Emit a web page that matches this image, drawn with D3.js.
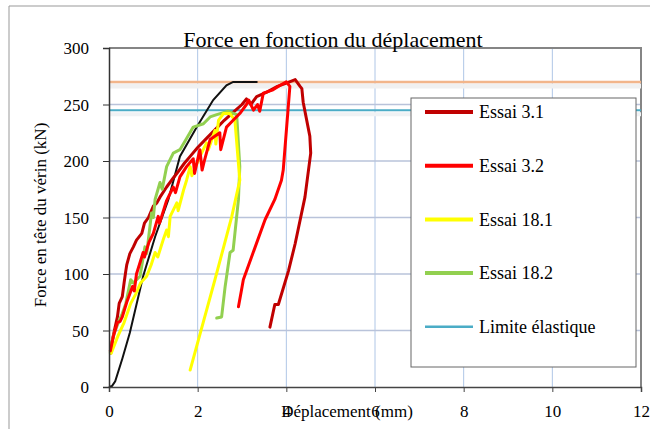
<!DOCTYPE html>
<html><head><meta charset="utf-8">
<script src="https://cdn.jsdelivr.net/npm/d3@7/dist/d3.min.js"></script>
<style>
body{margin:0;background:#fff;}
text{font-family:"Liberation Serif","DejaVu Serif",serif;fill:#000;}
</style></head>
<body><svg id="c" width="650" height="429"></svg>
<script>
// ---- data ----
const title = "Force en fonction du déplacement";
const xLabel = "Déplacement (mm)";
const yLabel = "Force en tête du vérin (kN)";
const xTicks = [0, 2, 4, 6, 8, 10, 12];
const yTicks = [0, 50, 100, 150, 200, 250, 300];
const seriesNames = ["Essai 3.1", "Essai 3.2", "Essai 18.1", "Essai 18.2", "Limite élastique"];
const seriesColors = ["#C00000", "#FF0000", "#FFFF00", "#92D050", "#4BACC6"];
const limiteElastique = 245;
const limiteMax = 270;

const courbeNoire = [[0,0],[0.07,1],[0.14,5],[0.3,25],[0.47,48],[0.77,98],[1.04,133],[1.34,166],[1.6,204],[1.98,230],[2.35,254],[2.65,267],[2.8,270],[3.35,270]];

const essai31 = [[0.04,30],[0.06,38],[0.11,48],[0.19,62],[0.23,74],[0.3,80],[0.34,92],[0.38,103],[0.4,108],[0.47,118],[0.55,124],[0.62,130],[0.74,136],[0.8,145],[0.89,150],[1.0,160],[1.08,163],[1.15,168],[1.3,177],[1.45,185],[1.55,190],[1.7,198],[1.85,205],[2.0,212],[2.2,220],[2.4,228],[2.6,236],[2.8,243],[3.0,250],[3.1,255],[3.2,250],[3.33,257],[3.56,261],[3.8,266],[4.0,269],[4.2,272],[4.31,266],[4.35,264],[4.38,252],[4.53,222],[4.55,207],[4.42,168],[4.2,127],[4.05,103],[3.82,73],[3.74,73],[3.63,53]];

const essai32 = [[0.03,32],[0.1,45],[0.19,57],[0.25,58],[0.3,62],[0.4,75],[0.53,89],[0.57,85],[0.62,100],[0.77,119],[0.8,115],[0.9,128],[1.0,136],[1.11,151],[1.14,145],[1.3,165],[1.45,177],[1.5,172],[1.6,186],[1.75,195],[1.9,202],[1.93,189],[2.05,210],[2.1,192],[2.15,200],[2.28,219],[2.5,225],[2.52,210],[2.65,230],[2.8,236],[2.95,242],[3.1,250],[3.15,254],[3.26,245],[3.35,250],[3.4,244],[3.48,260],[3.7,263],[3.86,267],[4.0,270],[4.08,266],[3.93,192],[3.89,183],[3.74,166],[3.52,148],[3.03,95],[2.99,86],[2.92,71]];

const essai181 = [[0.05,30],[0.08,33],[0.2,45],[0.34,57],[0.49,74],[0.6,82],[0.71,92],[0.85,98],[0.95,108],[1.04,119],[1.1,115],[1.22,130],[1.3,139],[1.34,133],[1.38,151],[1.53,163],[1.56,156],[1.68,174],[1.75,183],[1.83,195],[1.87,187],[2.05,204],[2.2,216],[2.24,210],[2.39,227],[2.41,215],[2.47,236],[2.58,242],[2.73,242],[2.84,236],[2.95,183],[2.77,151],[2.39,95],[1.83,15]];

const essai182 = [[0.03,30],[0.04,36],[0.12,48],[0.23,59],[0.3,65],[0.38,74],[0.49,95],[0.55,92],[0.7,98],[0.81,124],[0.85,118],[0.96,154],[1.0,150],[1.04,166],[1.15,181],[1.2,175],[1.3,195],[1.45,207],[1.6,210],[1.75,220],[1.9,230],[2.13,233],[2.28,239],[2.43,241],[2.69,244],[2.88,241],[2.95,195],[2.92,166],[2.84,136],[2.8,121],[2.73,119],[2.62,89],[2.54,62],[2.43,61]];

// ---- chart ----
const svg = d3.select("#c");
const x = d3.scaleLinear().domain([0, 12]).range([109, 641]);
const y = d3.scaleLinear().domain([0, 300]).range([387, 48]);

// outer frame
svg.append("path").attr("d","M9,429 V6 H650").attr("fill","none").attr("stroke","#999").attr("stroke-width",1);

// grid
svg.append("g").selectAll("line").data(xTicks.slice(1,-1)).join("line")
  .attr("x1",d=>x(d)).attr("x2",d=>x(d)).attr("y1",y(300)).attr("y2",y(0))
  .attr("stroke","#AFC6E6").attr("stroke-width",1);
svg.append("g").selectAll("line").data(yTicks.slice(1,-1)).join("line")
  .attr("x1",x(0)).attr("x2",x(12)).attr("y1",d=>y(d)).attr("y2",d=>y(d))
  .attr("stroke","#B9C3DA").attr("stroke-width",1.5);

// plot border top/right
svg.append("path").attr("d",`M${x(0)},${y(300)} H${x(12)} V${y(0)}`).attr("fill","none").attr("stroke","#858585").attr("stroke-width",2);

// reference lines (with soft shadow)
svg.append("line").attr("x1",x(0)).attr("x2",x(12)).attr("y1",y(limiteMax)+4).attr("y2",y(limiteMax)+4)
  .attr("stroke","#F0F0F0").attr("stroke-width",5);
svg.append("line").attr("x1",x(0)).attr("x2",x(12)).attr("y1",y(limiteMax)).attr("y2",y(limiteMax))
  .attr("stroke","#F2B58A").attr("stroke-width",2.5);
svg.append("line").attr("x1",x(0)).attr("x2",x(12)).attr("y1",y(limiteElastique)+4).attr("y2",y(limiteElastique)+4)
  .attr("stroke","#F0F2F4").attr("stroke-width",4);
svg.append("line").attr("x1",x(0)).attr("x2",x(12)).attr("y1",y(limiteElastique)).attr("y2",y(limiteElastique))
  .attr("stroke",seriesColors[4]).attr("stroke-width",2);

// curves
const line = d3.line().x(d=>x(d[0])).y(d=>y(d[1])).curve(d3.curveLinear);
svg.append("path").datum(courbeNoire).attr("d",line).attr("fill","none").attr("stroke","#111").attr("stroke-width",2);
const series = [essai31, essai182, essai181, essai32];
const colIdx = [0, 3, 2, 1];
series.forEach((s,i)=>{
  svg.append("path").datum(s).attr("d",line).attr("fill","none")
    .attr("stroke",seriesColors[colIdx[i]]).attr("stroke-width",3)
    .attr("stroke-linejoin","round").attr("stroke-linecap","round");
});

// axes
const ax = svg.append("g").attr("transform",`translate(0,${y(0)})`)
  .call(d3.axisBottom(x).tickValues(xTicks).tickSize(5).tickFormat(d3.format("d")));
ax.select(".domain").attr("stroke","#444").attr("stroke-width",1.5);
ax.selectAll(".tick line").attr("stroke","#444");
ax.selectAll(".tick text").attr("font-size",17).attr("font-family","Liberation Serif").attr("dy",0).attr("y",30);
const ay = svg.append("g").attr("transform",`translate(${x(0)},0)`)
  .call(d3.axisLeft(y).tickValues(yTicks).tickSize(6));
ay.select(".domain").attr("stroke","#333").attr("stroke-width",1.5);
ay.selectAll(".tick line").attr("stroke","#333");
ay.selectAll(".tick text").attr("font-size",17).attr("font-family","Liberation Serif").attr("x",-20).attr("dy","0.35em");

// titles
svg.append("text").attr("x",333).attr("y",47).attr("text-anchor","middle").attr("font-size",22).text(title);
svg.append("text").attr("x",347).attr("y",417).attr("text-anchor","middle").attr("font-size",17).text(xLabel);
svg.append("text").attr("transform","translate(46,215) rotate(-90)").attr("text-anchor","middle").attr("font-size",17).text(yLabel);

// legend
const lg = svg.append("g");
lg.append("rect").attr("x",411).attr("y",98).attr("width",225).attr("height",269).attr("fill","#fff").attr("stroke","#666").attr("stroke-width",1);
seriesNames.forEach((n,i)=>{
  const yy = 112 + i*53.7;
  lg.append("line").attr("x1",425).attr("x2",473).attr("y1",yy).attr("y2",yy)
    .attr("stroke",seriesColors[i]).attr("stroke-width",i===4?2.5:4);
  lg.append("text").attr("x",479).attr("y",yy).attr("dy","0.35em").attr("font-size",18).text(n);
});
</script></body></html>
